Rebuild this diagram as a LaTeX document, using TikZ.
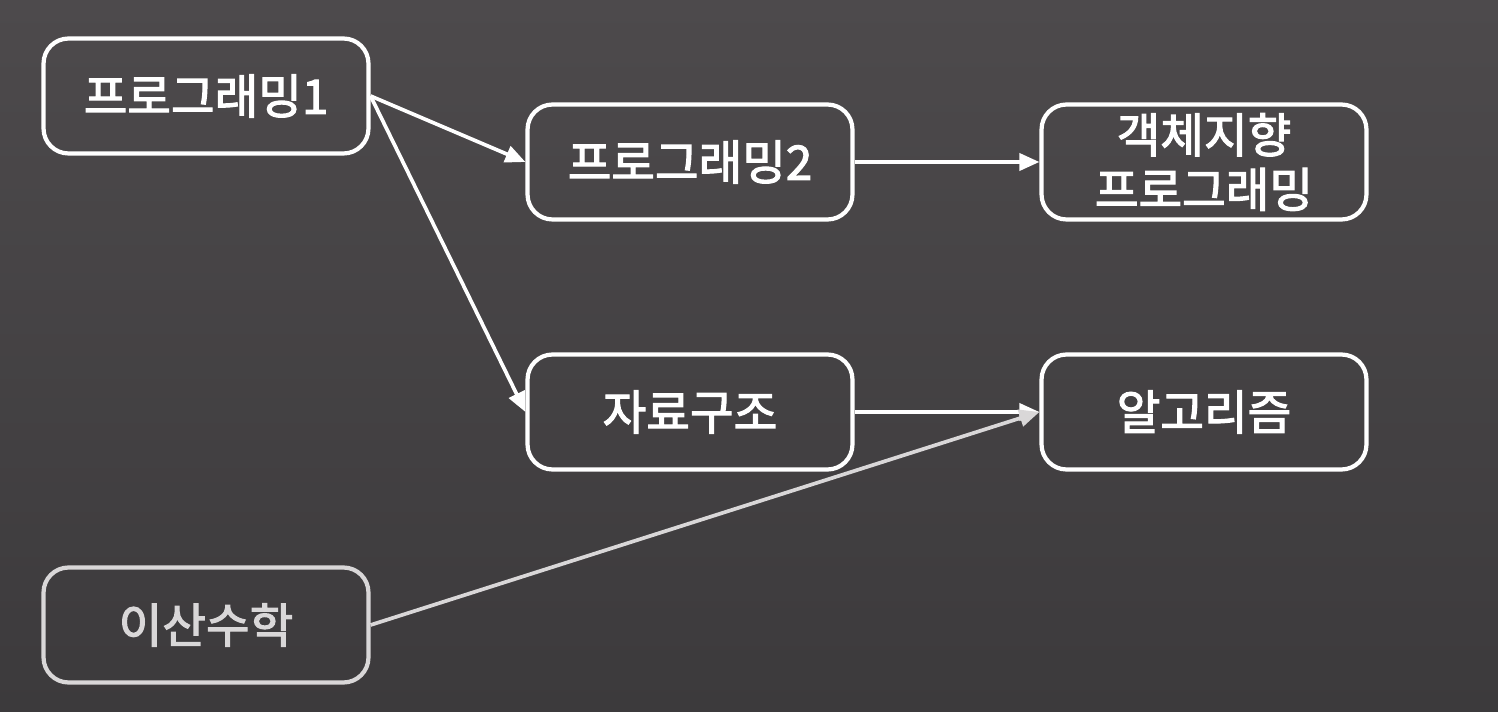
\documentclass[tikz,border=0pt]{standalone}
\usepackage{fontspec}
\newfontfamily\kr{Noto Sans CJK KR}[FakeBold=2.5]
\usetikzlibrary{arrows.meta}
\definecolor{bgtop}{RGB}{77,74,76}
\definecolor{bgbot}{RGB}{60,58,60}
\definecolor{dim}{RGB}{217,215,216}
\begin{document}
\begin{tikzpicture}[x=0.02cm,y=-0.02cm,
    box/.style={draw=white,line width=2.4pt,rounded corners=0.5cm,
      minimum width=6.5cm,minimum height=2.3cm,inner sep=0pt,
      text=white,align=center,font=\kr\fontsize{27}{31}\selectfont},
    link/.style={draw=white,line width=2.1pt,
      -{Triangle[length=0.4cm,width=0.34cm]}}]
  \shade[top color=bgtop,bottom color=bgbot] (0,0) rectangle (1498,712);
  \useasboundingbox (0,0) rectangle (1498,712);
  % courses
  \node[box] (prog1) at (206,96) {프로그래밍1};
  \node[box] (prog2) at (690,162) {프로그래밍2};
  \node[box] (oop) at (1204,162) {객체지향\\프로그래밍};
  \node[box] (ds) at (690,412) {자료구조};
  \node[box] (algo) at (1204,412) {알고리즘};
  \node[box,draw=dim,text=dim] (dmath) at (206,625) {이산수학};
  % prerequisites
  \draw[link] (prog1.east) -- (prog2.west);
  \draw[link] (prog1.east) -- (ds.west);
  \draw[link] (prog2.east) -- (oop.west);
  \draw[link] (ds.east) -- (algo.west);
  \draw[link,draw=dim] (dmath.east) -- (algo.west);
\end{tikzpicture}
\end{document}
